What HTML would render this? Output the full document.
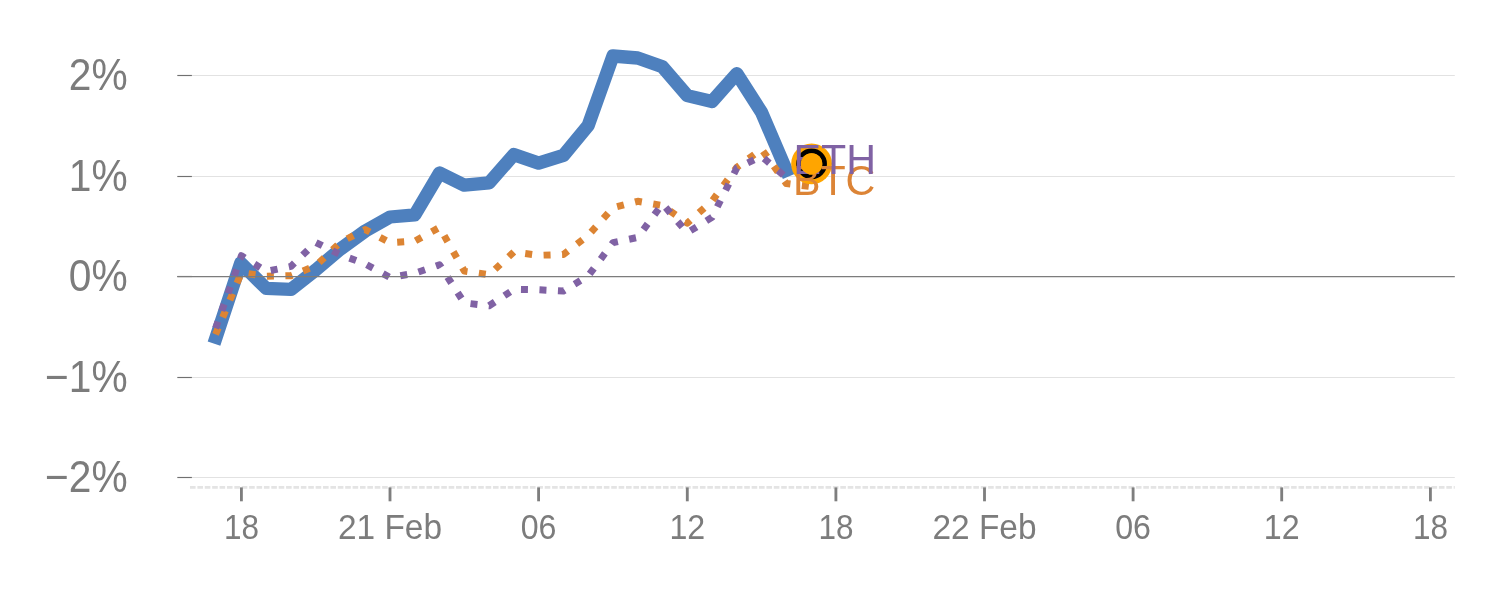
<!DOCTYPE html><html><head><meta charset="utf-8"><title>chart</title><style>html,body{margin:0;padding:0;background:#fff;overflow:hidden}svg{display:block}text{font-family:"Liberation Sans",Arial,sans-serif}</style></head><body>
<svg width="1500" height="600" viewBox="0 0 1500 600">
<rect width="1500" height="600" fill="#fff"/>
<line x1="191.9" x2="1454.8" y1="75.5" y2="75.5" stroke="#e2e2e2" stroke-width="1.1"/>
<line x1="191.9" x2="1454.8" y1="176.5" y2="176.5" stroke="#e2e2e2" stroke-width="1.1"/>
<line x1="191.9" x2="1454.8" y1="377.5" y2="377.5" stroke="#e2e2e2" stroke-width="1.1"/>
<line x1="191.9" x2="1454.8" y1="477.5" y2="477.5" stroke="#e2e2e2" stroke-width="1.1"/>
<line x1="190" x2="1454.8" y1="487.4" y2="487.4" stroke="#e4e4e4" stroke-width="2.8" stroke-dasharray="5.6 1.79"/>
<line x1="177.3" x2="191.9" y1="75.5" y2="75.5" stroke="#707070" stroke-width="1.15"/>
<line x1="177.3" x2="191.9" y1="176.5" y2="176.5" stroke="#707070" stroke-width="1.15"/>
<line x1="177.3" x2="191.9" y1="276.5" y2="276.5" stroke="#707070" stroke-width="1.15"/>
<line x1="177.3" x2="191.9" y1="377.5" y2="377.5" stroke="#707070" stroke-width="1.15"/>
<line x1="177.3" x2="191.9" y1="477.5" y2="477.5" stroke="#707070" stroke-width="1.15"/>
<line x1="241.4" x2="241.4" y1="487.4" y2="501.3" stroke="#7e7e7e" stroke-width="2.85"/>
<line x1="390.0" x2="390.0" y1="487.4" y2="501.3" stroke="#7e7e7e" stroke-width="2.85"/>
<line x1="538.6" x2="538.6" y1="487.4" y2="501.3" stroke="#7e7e7e" stroke-width="2.85"/>
<line x1="687.3" x2="687.3" y1="487.4" y2="501.3" stroke="#7e7e7e" stroke-width="2.85"/>
<line x1="835.9" x2="835.9" y1="487.4" y2="501.3" stroke="#7e7e7e" stroke-width="2.85"/>
<line x1="984.5" x2="984.5" y1="487.4" y2="501.3" stroke="#7e7e7e" stroke-width="2.85"/>
<line x1="1133.1" x2="1133.1" y1="487.4" y2="501.3" stroke="#7e7e7e" stroke-width="2.85"/>
<line x1="1281.7" x2="1281.7" y1="487.4" y2="501.3" stroke="#7e7e7e" stroke-width="2.85"/>
<line x1="1430.4" x2="1430.4" y1="487.4" y2="501.3" stroke="#7e7e7e" stroke-width="2.85"/>
<text transform="translate(127.6 90.3) scale(0.93 1)" text-anchor="end" font-size="43.8" fill="#7c7c7c">2%</text>
<text transform="translate(127.6 191.3) scale(0.93 1)" text-anchor="end" font-size="43.8" fill="#7c7c7c">1%</text>
<text transform="translate(127.6 291.3) scale(0.93 1)" text-anchor="end" font-size="43.8" fill="#7c7c7c">0%</text>
<text transform="translate(127.6 392.3) scale(0.93 1)" text-anchor="end" font-size="43.8" fill="#7c7c7c">−1%</text>
<text transform="translate(127.6 492.3) scale(0.93 1)" text-anchor="end" font-size="43.8" fill="#7c7c7c">−2%</text>
<text transform="translate(241.4 539.3) scale(0.9 1)" text-anchor="middle" font-size="35" fill="#7c7c7c">18</text>
<text transform="translate(390.0 539.3) scale(0.955 1)" text-anchor="middle" font-size="35" fill="#7c7c7c">21 Feb</text>
<text transform="translate(538.6 539.3) scale(0.92 1)" text-anchor="middle" font-size="35" fill="#7c7c7c">06</text>
<text transform="translate(687.3 539.3) scale(0.92 1)" text-anchor="middle" font-size="35" fill="#7c7c7c">12</text>
<text transform="translate(835.9 539.3) scale(0.9 1)" text-anchor="middle" font-size="35" fill="#7c7c7c">18</text>
<text transform="translate(984.5 539.3) scale(0.955 1)" text-anchor="middle" font-size="35" fill="#7c7c7c">22 Feb</text>
<text transform="translate(1133.1 539.3) scale(0.92 1)" text-anchor="middle" font-size="35" fill="#7c7c7c">06</text>
<text transform="translate(1281.7 539.3) scale(0.92 1)" text-anchor="middle" font-size="35" fill="#7c7c7c">12</text>
<text transform="translate(1430.4 539.3) scale(0.9 1)" text-anchor="middle" font-size="35" fill="#7c7c7c">18</text>
<polyline points="216.10,337.30 240.70,263.00 266.17,288.40 290.94,289.40 315.71,270.00 340.48,249.00 365.25,231.00 390.02,217.00 414.79,214.80 439.56,173.00 464.33,185.20 489.10,182.90 513.87,154.60 538.64,163.10 563.41,155.40 588.18,125.60 612.95,56.00 637.72,58.00 662.49,66.80 687.26,95.60 712.03,101.50 736.80,73.60 761.57,112.40 786.34,170.20" fill="none" stroke="#4e80be" stroke-width="13.3" stroke-linejoin="round" stroke-linecap="square"/>
<polyline points="215.55,334.33 241.40,272.77 266.17,276.18 290.94,275.66 315.71,265.89 340.48,242.17 365.25,229.55 390.02,242.74 414.79,241.19 439.56,227.37 464.33,271.15 489.10,274.81 513.87,251.96 538.64,255.30 563.41,254.43 588.18,235.38 612.95,207.72 637.72,201.31 662.49,205.54 687.26,223.14 712.03,201.02 736.80,167.36 761.57,149.21 786.34,183.58 811.11,186.63" fill="none" stroke="#dc8433" stroke-width="7" stroke-linejoin="round" stroke-dasharray="7 11.5"/>
<polyline points="215.62,328.29 241.40,255.72 266.17,271.48 290.94,266.39 315.71,242.38 340.48,254.77 365.25,263.87 390.02,277.51 414.79,273.18 439.56,264.79 464.33,302.93 489.10,305.77 513.87,289.41 538.64,289.76 563.41,291.01 588.18,275.91 612.95,242.68 637.72,237.39 662.49,203.78 687.26,232.67 712.03,217.35 736.80,168.00 761.57,156.40 786.34,177.59" fill="none" stroke="#8062a4" stroke-width="7" stroke-linejoin="round" stroke-dasharray="7 11.5"/>
<line x1="177.3" x2="1454.8" y1="276.5" y2="276.5" stroke="#7c7c7c" stroke-width="1.25"/>
<circle cx="811.6" cy="163.9" r="20.4" fill="#ffa500"/>
<circle cx="811.6" cy="163.9" r="13" fill="#ffa500" stroke="#000" stroke-width="4.7"/>
<text transform="translate(792.9 194.7) scale(0.955 1)" font-size="43.2" fill="#dc8436">BTC</text>
<text transform="translate(793.6 173.7) scale(0.955 1)" font-size="43.2" fill="#8062a4">ETH</text>
<circle cx="811.6" cy="163.9" r="10.7" fill="#ffa500"/>
</svg></body></html>
